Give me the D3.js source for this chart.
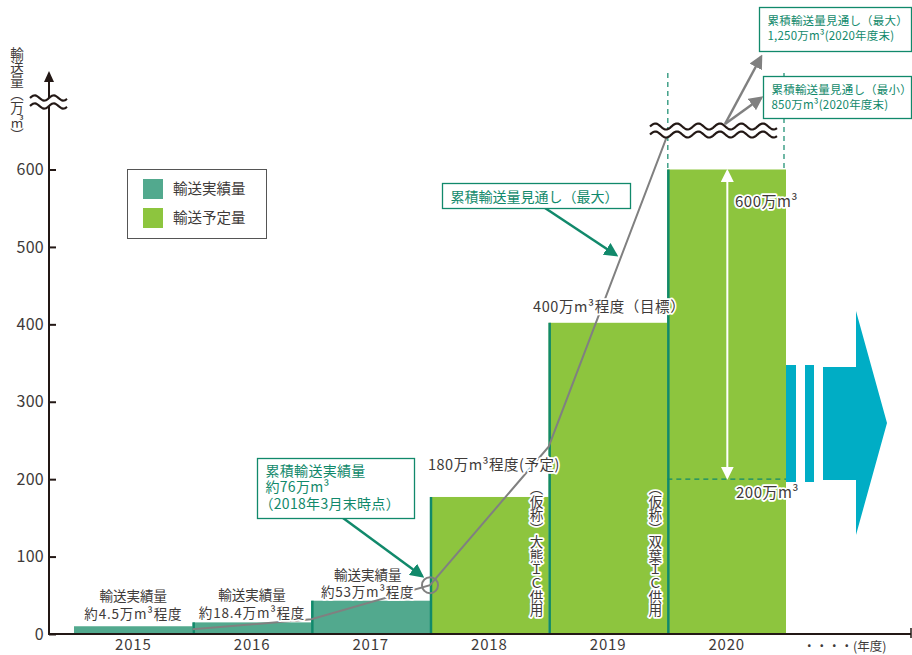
<!DOCTYPE html>
<html><head><meta charset="utf-8">
<script src="https://cdn.jsdelivr.net/npm/d3@7"></script>
<style>
body{margin:0;background:#fff;}
svg{display:block;font-family:"Noto Sans CJK JP","Noto Sans",sans-serif;}
.halo{paint-order:stroke;stroke:#fff;stroke-width:3.5px;stroke-linejoin:round;}
</style></head>
<body><svg id="c" width="912" height="655"></svg>
<script>
// ---- data ----
const years = ["2015","2016","2017","2018","2019","2020"];
const barValues = [10, 15, 43, 177, 402, 600];
const barKinds = ["actual","actual","actual","plan","plan","plan"];
const yTicks = [0,100,200,300,400,500,600];
const cumYears = ["2015","2016","2017","2018","2019"];      // year-end points
const cumValues = [6, 19, 63, 242, 644];
const barLabels1 = ["輸送実績量","輸送実績量","輸送実績量"];
const barLabels2 = ["約4.5万m³程度","約18.4万m³程度","約53万m³程度"];
const legendLabels = ["輸送実績量","輸送予定量"];
const colors = {actual:"#52a98e", plan:"#8dc53e", teal:"#11896b", gray:"#808080", cyan:"#00adc5", text:"#3e3a39"};

const svg = d3.select("#c");
const x = d3.scaleBand().domain(years).range([74, 786]).padding(0);
const y = d3.scaleLinear().domain([0, 600]).range([634, 169.5]);
const bw = x.bandwidth();

// bars
svg.append("g").selectAll("rect").data(years).join("rect")
  .attr("x", d => x(d)).attr("width", bw)
  .attr("y", (d,i) => y(barValues[i])).attr("height", (d,i) => y(0) - y(barValues[i]))
  .attr("fill", (d,i) => colors[barKinds[i]]);
svg.append("g").selectAll("line").data(years.slice(1)).join("line")
  .attr("x1", d => x(d)+1).attr("x2", d => x(d)+1)
  .attr("y1", (d) => y(barValues[years.indexOf(d)])).attr("y2", y(0))
  .attr("stroke", colors.teal).attr("stroke-width", 2.5);

// dashed guides for 2020
const x20 = x("2020");
svg.append("g").selectAll("line").data([x20+0.5, x20+bw-2]).join("line")
  .attr("x1", d=>d).attr("x2", d=>d).attr("y1", 73).attr("y2", y(600))
  .attr("stroke", colors.teal).attr("stroke-width", 1.2).attr("stroke-dasharray", "5,4");
svg.append("line").attr("x1", x20).attr("x2", x20+bw).attr("y1", y(200)).attr("y2", y(200))
  .attr("stroke", colors.teal).attr("stroke-width", 1.2).attr("stroke-dasharray", "5,4");

// markers
const defs = svg.append("defs");
function marker(id, color, size){
  defs.append("marker").attr("id", id).attr("viewBox","0 0 10 10").attr("refX",8).attr("refY",5)
    .attr("markerWidth",size).attr("markerHeight",size).attr("markerUnits","userSpaceOnUse").attr("orient","auto-start-reverse")
    .append("path").attr("d","M0,0 L10,5 L0,10 z").attr("fill", color);
}
marker("mW", "#fff", 13); marker("mT", colors.teal, 14); marker("mG", colors.gray, 14);
svg.append("line").attr("x1", x20+60).attr("x2", x20+60).attr("y1", y(600)+2).attr("y2", y(200)-2)
  .attr("stroke","#fff").attr("stroke-width",2).attr("marker-start","url(#mW)").attr("marker-end","url(#mW)");

// cumulative line
const cx = d => x(d) + bw;
const line = d3.line().x(d => cx(d)).y((d,i) => y(cumValues[i])).curve(d3.curveLinear);
svg.append("path").attr("d", line(cumYears)).attr("fill","none").attr("stroke", colors.gray).attr("stroke-width",2);
svg.append("circle").attr("cx", cx("2017")).attr("cy", y(cumValues[2])).attr("r", 8)
  .attr("fill","none").attr("stroke", colors.gray).attr("stroke-width",2);

// wave break helper
function wave(x0, x1, yc, amp, period){
  const pts = d3.range(x0, x1+0.5, 1).map(xx => [xx, yc - amp*Math.sin((xx-x0)/period*2*Math.PI)]);
  return d3.line()(pts);
}
function breakMark(x0, x1, yTop, gap, amp, period){
  const pts1 = d3.range(x0, x1+0.5, 1).map(xx => [xx, yTop - amp*Math.sin((xx-x0)/period*2*Math.PI)]);
  const pts2 = pts1.map(p => [p[0], p[1]+gap]).reverse();
  svg.append("path").attr("d", d3.line()(pts1.concat(pts2))+"Z").attr("fill","#fff");
  svg.append("path").attr("d", wave(x0,x1,yTop,amp,period)).attr("fill","none").attr("stroke","#231815").attr("stroke-width",2.2);
  svg.append("path").attr("d", wave(x0,x1,yTop+gap,amp,period)).attr("fill","none").attr("stroke","#231815").attr("stroke-width",2.2);
}
breakMark(650, 777, 126.5, 8, 3, 21.5);

// projection arrows
svg.append("line").attr("x1",725).attr("y1",124).attr("x2",761).attr("y2",57)
  .attr("stroke",colors.gray).attr("stroke-width",2.5).attr("marker-end","url(#mG)");
svg.append("line").attr("x1",725).attr("y1",124).attr("x2",761).attr("y2",98)
  .attr("stroke",colors.gray).attr("stroke-width",2.5).attr("marker-end","url(#mG)");

// axes
const yAxis = d3.axisLeft(y).tickValues(yTicks).tickSizeInner(-7).tickSizeOuter(0).tickPadding(5);
const gy = svg.append("g").attr("transform","translate(49,0)").call(yAxis);
gy.select(".domain").remove();
gy.selectAll("line").attr("stroke","#231815").attr("stroke-width",2);
gy.selectAll("text").attr("font-size",16).attr("fill",colors.text).attr("font-family","Noto Sans CJK JP").attr("letter-spacing",0.3);
svg.append("line").attr("x1",49).attr("x2",49).attr("y1",635).attr("y2",80).attr("stroke","#231815").attr("stroke-width",2);
svg.append("path").attr("d","M49,71 L54,82 L44,82 Z").attr("fill","#231815");
breakMark(30, 67, 98, 8, 2.6, 19);

const xAxis = d3.axisBottom(x).tickSize(0).tickPadding(5);
const gx = svg.append("g").attr("transform","translate(0,634)").call(xAxis);
gx.select(".domain").remove();
gx.selectAll("text").attr("font-size",15).attr("fill",colors.text).attr("font-family","Noto Sans CJK JP").attr("letter-spacing",0.8);
svg.append("line").attr("x1",48).attr("x2",911).attr("y1",634).attr("y2",634).attr("stroke","#231815").attr("stroke-width",2);
svg.append("line").attr("x1",911).attr("x2",911).attr("y1",628).attr("y2",638).attr("stroke","#231815").attr("stroke-width",1.5);
svg.append("text").attr("x",803).attr("y",651).attr("font-size",12.5).attr("fill",colors.text).text("・・・・(年度)");

// y axis title (vertical)
svg.append("text").attr("x",17).attr("y",47).attr("font-size",13.5).attr("fill",colors.text)
  .style("writing-mode","vertical-rl").text("輸送量（万㎥）");

// cyan continuation arrow
svg.append("rect").attr("x",786).attr("y",365).attr("width",10).attr("height",117).attr("fill",colors.cyan);
svg.append("rect").attr("x",805).attr("y",365).attr("width",9).attr("height",117).attr("fill",colors.cyan);
svg.append("path").attr("d","M823,367 L856,367 L856,311 L887,423 L856,535 L856,480 L823,480 Z").attr("fill",colors.cyan);

// legend
const lg = svg.append("g");
lg.append("rect").attr("x",127.5).attr("y",169.5).attr("width",139).attr("height",69).attr("fill","#fff").attr("stroke","#555").attr("stroke-width",1);
lg.selectAll(".sw").data(legendLabels).join("rect").attr("class","sw")
  .attr("x",143).attr("y",(d,i)=>179+i*29).attr("width",20).attr("height",20)
  .attr("fill",(d,i)=>i===0?colors.actual:colors.plan);
lg.selectAll(".lt").data(legendLabels).join("text").attr("class","lt")
  .attr("x",173).attr("y",(d,i)=>194+i*29).attr("font-size",14.5).attr("fill",colors.text).text(d=>d);

// actual bar labels
const lbl = svg.append("g").attr("fill",colors.text).attr("font-size",13.5).attr("text-anchor","middle");
const lblY = [[601,619],[600,618],[580,597]];
barLabels1.forEach((t,i)=>{
  const cxm = x(years[i]) + bw/2 - (i===2?3:0);
  lbl.append("text").attr("class","halo").attr("x",cxm).attr("y",lblY[i][0]).text(t);
  lbl.append("text").attr("class","halo").attr("x",cxm).attr("y",lblY[i][1]).attr("letter-spacing",0.8).text(barLabels2[i]);
});

// plan labels
svg.append("text").attr("class","halo").attr("x",428).attr("y",470).attr("font-size",14.5).attr("letter-spacing",0.5).attr("fill",colors.text).text("180万m³程度(予定)");
svg.append("text").attr("class","halo").attr("x",533).attr("y",312).attr("font-size",14.5).attr("letter-spacing",0.6).attr("fill",colors.text).text("400万m³程度（目標）");
svg.append("text").attr("class","halo").attr("x",735).attr("y",207).attr("font-size",15).attr("letter-spacing",0.5).attr("fill",colors.text).text("600万m³");
svg.append("text").attr("class","halo").attr("x",736).attr("y",498).attr("font-size",15).attr("letter-spacing",0.5).attr("fill",colors.text).text("200万m³");

// vertical IC labels
[["2018","（仮称）大熊ＩＣ供用"],["2019","（仮称）双葉ＩＣ供用"]].forEach(([yr,t])=>{
  svg.append("text").attr("class","halo").attr("x", x(yr)+bw-12).attr("y",481).attr("font-size",13.6)
    .attr("fill",colors.text).style("writing-mode","vertical-rl").style("text-orientation","upright").text(t);
});

// callouts
function callout(x0,y0,w,h,lines,fs,lh,ty,ls){
  svg.append("rect").attr("x",x0).attr("y",y0).attr("width",w).attr("height",h).attr("fill","#fff").attr("stroke",colors.teal).attr("stroke-width",1.3);
  lines.forEach((t,i)=>svg.append("text").attr("x",x0+ (Array.isArray(t)?t[1]:8)).attr("y",y0+ty+i*lh)
    .attr("font-size",fs).attr("letter-spacing",ls||0).attr("fill",colors.teal).text(Array.isArray(t)?t[0]:t));
}
svg.append("line").attr("x1",343).attr("y1",518).attr("x2",422).attr("y2",576).attr("stroke",colors.teal).attr("stroke-width",2.5).attr("marker-end","url(#mT)");
callout(257.5,458.5,157,60,["累積輸送実績量","約76万m³",["（2018年3月末時点）",2]],14,16.5,17,0.3);
svg.append("line").attr("x1",545).attr("y1",208).attr("x2",616).attr("y2",255).attr("stroke",colors.teal).attr("stroke-width",2.5).attr("marker-end","url(#mT)");
callout(442.5,183.5,188,25,["累積輸送量見通し（最大）"],14,16,18,0);
callout(759.5,7.5,152,44,["累積輸送量見通し（最大）","1,250万m³(2020年度末)"],11.5,15,17,0.2);
callout(763.5,76.5,148,42,["累積輸送量見通し（最小）","850万m³(2020年度末)"],11.5,15,17,0.2);
</script></body></html>
